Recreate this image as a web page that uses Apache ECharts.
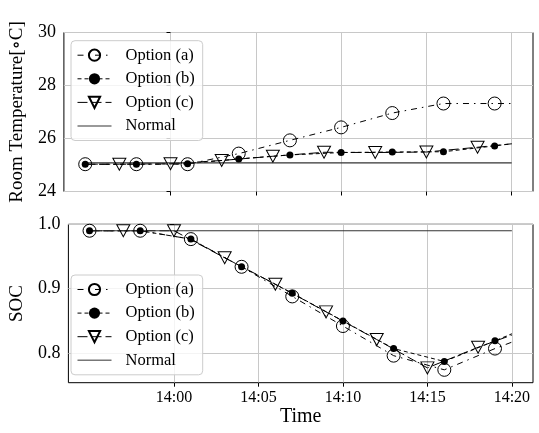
<!DOCTYPE html>
<html>
<head>
<meta charset="utf-8">
<script src="https://cdn.jsdelivr.net/npm/echarts@6.0.0/dist/echarts.min.js"></script>
<style>
  html, body { margin: 0; padding: 0; background: #fff; }
  #chart { width: 539px; height: 433px; }
</style>
</head>
<body>
<div id="chart"></div>
<script>
// 时间（标记点 + 末端无标记点）
const timesAB = ['13:55', '13:58', '14:01', '14:04', '14:07', '14:10', '14:13', '14:16', '14:19', '14:20'];
const timesC = ['13:55', '13:57', '14:00', '14:03', '14:06', '14:09', '14:12', '14:15', '14:18', '14:20'];
const timesNormal = ['13:55', '14:20'];
// which points carry no marker
const unmarkedAB = ['14:20'];
const unmarkedC = ['13:55', '14:20'];

// Room temperature [°C]
const tempA = [25.03, 25.03, 25.03, 25.43, 25.93, 26.42, 26.96, 27.32, 27.32, 27.32];
const tempB = [25.03, 25.03, 25.05, 25.23, 25.38, 25.47, 25.49, 25.50, 25.72, 25.80];
const tempC = [25.03, 25.03, 25.05, 25.17, 25.33, 25.48, 25.47, 25.49, 25.67, 25.80];
const tempNormal = [25.08, 25.08];

// SOC
const socA = [0.99, 0.99, 0.977, 0.934, 0.888, 0.842, 0.796, 0.774, 0.807, 0.817];
const socB = [0.99, 0.99, 0.977, 0.934, 0.893, 0.850, 0.807, 0.787, 0.819, 0.830];
const socC = [0.99, 0.99, 0.990, 0.948, 0.907, 0.864, 0.821, 0.777, 0.809, 0.828];
const socNormal = [0.99, 0.99];

const xTicks = ['14:00', '14:05', '14:10', '14:15', '14:20'];
const tempTicks = [24, 26, 28, 30];
const socTicks = [0.8, 0.9, 1.0];

const names = ['Option (a)', 'Option (b)', 'Option (c)', 'Normal'];

const FONT = "'Liberation Serif', 'DejaVu Serif', serif";

// 14:00 为 0 分钟
function toMin(t) {
  const [h, m] = t.split(':').map(Number);
  return (h - 14) * 60 + m;
}
function fmtMin(v) {
  const total = 14 * 60 + Math.round(v);
  const h = Math.floor(total / 60), m = total % 60;
  return h + ':' + (m < 10 ? '0' + m : m);
}
function points(times, vals, unmarked) {
  return times.map((t, i) => {
    const item = { value: [toMin(t), vals[i]] };
    if (unmarked && unmarked.includes(t)) item.symbol = 'none';
    return item;
  });
}

const TRI = 'path://M0,0 L12,0 L6,11 Z';

function seriesSet(gi, a, b, c, n) {
  const base = { type: 'line', xAxisIndex: gi, yAxisIndex: gi, showAllSymbol: true, animation: false, z: 3 };
  return [
    Object.assign({}, base, {
      name: names[0], data: points(timesAB, a, unmarkedAB),
      symbol: 'circle', symbolSize: 13,
      lineStyle: { color: '#000', width: 1, type: [6, 5, 1.5, 5] },
      itemStyle: { color: 'rgba(255,255,255,0)', borderColor: '#000', borderWidth: 1 }
    }),
    Object.assign({}, base, {
      name: names[1], data: points(timesAB, b, unmarkedAB),
      symbol: 'circle', symbolSize: 7,
      lineStyle: { color: '#000', width: 1, type: [4, 3] },
      itemStyle: { color: '#000', borderColor: '#000', borderWidth: 0 }
    }),
    Object.assign({}, base, {
      name: names[2], data: points(timesC, c, unmarkedC),
      symbol: TRI, symbolSize: [13, 12],
      lineStyle: { color: '#000', width: 1, type: [10, 4] },
      itemStyle: { color: 'rgba(255,255,255,0)', borderColor: '#000', borderWidth: 1 }
    }),
    Object.assign({}, base, {
      name: names[3], data: points(timesNormal, n),
      symbol: 'none', showSymbol: false,
      lineStyle: { color: '#333', width: 1.1, type: 'solid' },
      itemStyle: { color: '#333' }
    })
  ];
}

function xAxis(gi, showLabels) {
  return {
    type: 'value', gridIndex: gi, min: -6.25, max: 21.25,
    name: showLabels ? 'Time' : '', nameLocation: 'middle', nameGap: 24,
    nameTextStyle: { fontFamily: FONT, fontSize: 20, color: '#000' },
    axisLine: { show: false },
    axisTick: { show: true, length: 4, lineStyle: { color: '#000' }, customValues: xTicks.map(toMin) },
    axisLabel: { show: showLabels, margin: 7, fontFamily: FONT, fontSize: 16, color: '#000',
      customValues: xTicks.map(toMin), formatter: v => fmtMin(v) },
    splitLine: { show: true, lineStyle: { color: '#c8c8c8', width: 1 } }
  };
}

function yAxis(gi, name, min, max, ticks, fmt) {
  return {
    type: 'value', gridIndex: gi, min: min, max: max,
    name: name, nameLocation: 'middle', nameGap: 34,
    nameTextStyle: { fontFamily: FONT, fontSize: 19, color: '#000' },
    axisLine: { show: false },
    axisTick: { show: true, length: 4, lineStyle: { color: '#000' }, customValues: ticks },
    axisLabel: { margin: 8, fontFamily: FONT, fontSize: 18, color: '#000', customValues: ticks, formatter: fmt },
    splitLine: { show: true, lineStyle: { color: '#c8c8c8', width: 1 } }
  };
}

function legend(top) {
  return {
    data: [
      names[0], names[1], names[2],
      { name: names[3], icon: 'path://M0,0 L34,0 L34,1.6 L0,1.6 Z', itemStyle: { color: '#777', borderWidth: 0 } }
    ],
    orient: 'vertical', left: 71, top: top,
    itemWidth: 34, itemHeight: 14, itemGap: 6.6,
    padding: [6, 8, 6, 6],
    lineStyle: { width: 1 },
    backgroundColor: 'rgba(255,255,255,0.8)', borderColor: '#cccccc', borderWidth: 1, borderRadius: 4,
    textStyle: { fontFamily: FONT, fontSize: 16.5, color: '#000', padding: [0, 0, 0, 9] },
    selectedMode: false
  };
}

const chart = echarts.init(document.getElementById('chart'), null, { renderer: 'canvas' });
chart.setOption({
  backgroundColor: '#fff',
  animation: false,
  textStyle: { fontFamily: FONT },
  grid: [
    { left: 62, top: 32.5, width: 471, height: 159, show: true, borderColor: '#000', borderWidth: 1, backgroundColor: 'transparent' },
    { left: 62, top: 224.3, width: 471, height: 158.4, show: true, borderColor: '#000', borderWidth: 1, backgroundColor: 'transparent' }
  ],
  xAxis: [xAxis(0, false), xAxis(1, true)],
  yAxis: [
    yAxis(0, 'Room Temperature[∘C]', 24, 30, tempTicks, v => String(v)),
    yAxis(1, 'SOC', 0.754, 1.0, socTicks, v => v.toFixed(1))
  ],
  legend: [legend(40.7), legend(275)],
  series: seriesSet(0, tempA, tempB, tempC, tempNormal)
    .concat(seriesSet(1, socA, socB, socC, socNormal))
});
</script>
</body>
</html>
